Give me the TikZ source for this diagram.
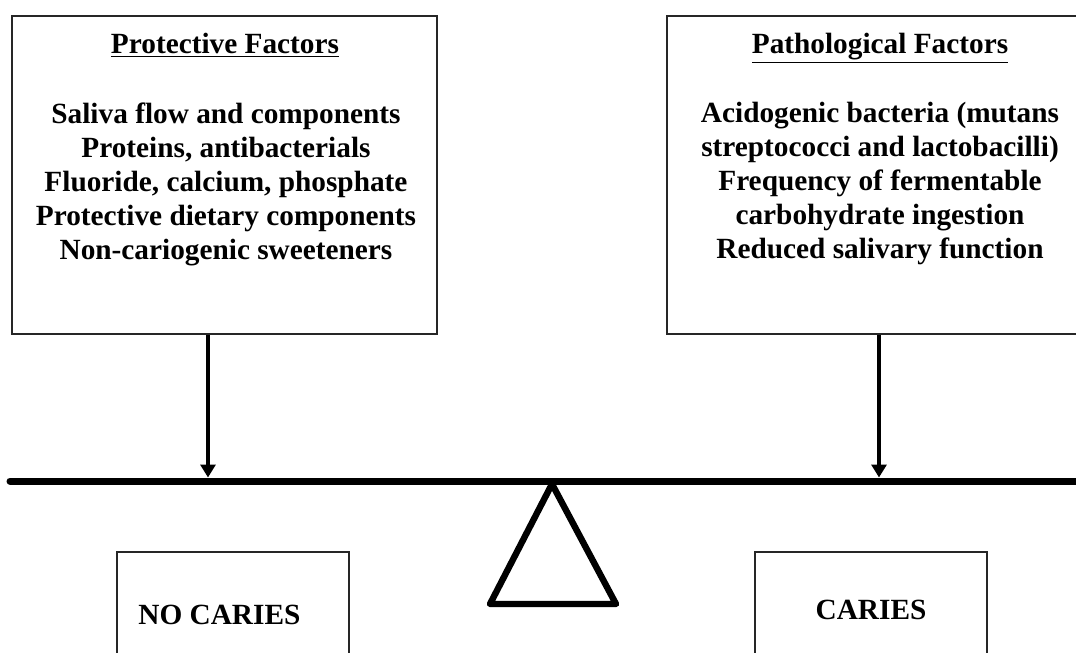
\documentclass[tikz,border=0pt]{standalone}
\usepackage{fontspec}
\setmainfont{Liberation Serif}
\usetikzlibrary{arrows.meta}
\begin{document}
\begin{tikzpicture}[x=0.5pt,y=-0.5pt,
  box/.style={draw=black!85, line width=1pt, minimum width=212.5pt, minimum height=159pt, inner sep=0},
  lowbox/.style={draw=black!85, line width=1pt, minimum width=116pt, minimum height=74pt, inner sep=0},
  txt/.style={font=\fontsize{14.65}{17}\selectfont\bfseries, align=center, inner sep=0},
  arr/.style={line width=1.6pt, -{Triangle[width=7.5pt,length=6.5pt]}},
  beam/.style={line width=3.5pt, line cap=round},
  fulcrum/.style={line width=3.2pt, line join=round}
]
\path[use as bounding box, clip] (0,0) rectangle (1076,653);
% top boxes
\node[box] (lbox) at (224.5,175) {};
\node[box] (rbox) at (879.5,175) {};
\node[txt, anchor=base] (ltitle) at (225,53) {\underline{Protective Factors}};
\node[txt, anchor=north] (ltext) at (226,102) {Saliva flow and components\\Proteins, antibacterials\\Fluoride, calcium, phosphate\\Protective dietary components\\Non-cariogenic sweeteners};
\node[txt, anchor=base] (rtitle) at (880,53) {\underline{Pathological Factors}};
\node[txt, anchor=north] (rtext) at (880,102) {Acidogenic bacteria (mutans\\streptococci and lactobacilli)\\Frequency of fermentable\\carbohydrate ingestion\\Reduced salivary function};
% beam
\coordinate (beamL) at (10,481);
\coordinate (beamR) at (1100,481);
\draw[beam] (beamL) -- (beamR);
% arrows
\coordinate (lhit) at (208,477.5);
\coordinate (rhit) at (879,477.5);
\draw[arr] (lbox.south -| lhit) -- (lhit);
\draw[arr] (rbox.south -| rhit) -- (rhit);
% fulcrum
\coordinate (apex) at (552,484);
\coordinate (bl) at (490,604);
\coordinate (br) at (616,604);
\draw[fulcrum] (apex) -- (bl) -- (br) -- cycle;
% bottom boxes
\node[lowbox] (nocar) at (233,626) {};
\node[txt, anchor=base west] (nocartxt) at (138,624) {NO CARIES};
\node[lowbox] (car) at (871,626) {};
\node[txt, anchor=base] (cartxt) at (871,619) {CARIES};
\end{tikzpicture}
\end{document}
